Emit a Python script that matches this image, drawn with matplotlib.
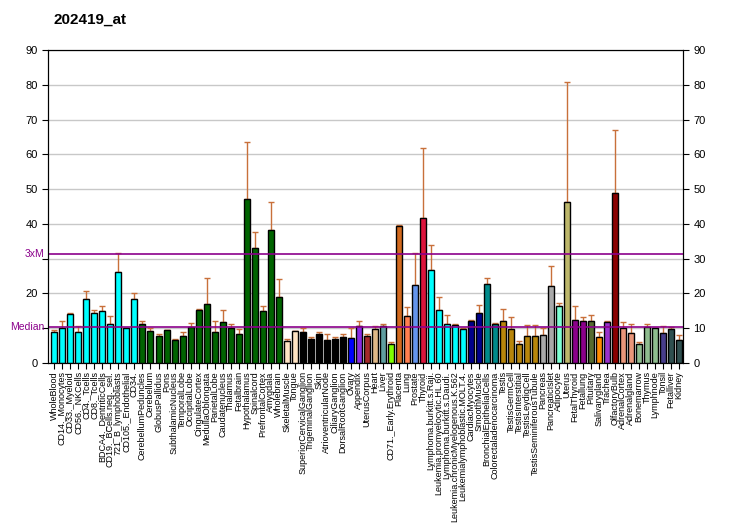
import matplotlib
matplotlib.use("Agg")
import matplotlib.pyplot as plt
import numpy as np

# tissue labels, in plot order
labels = ["WholeBlood", "CD14._Monocytes", "CD33._Myeloid", "CD56._NKCells", "CD4._Tcells",
          "CD8._Tcells", "BDCA4._DentriticCells", "CD19._BCells.neg._sel.", "721_B_lymphoblasts",
          "CD105._Endothelial", "CD34.", "CerebellumPeduncles", "Cerebellum", "GlobusPallidus",
          "Pons", "SubthalamicNucleus", "TemporalLobe", "OccipitalLobe", "CingulateCortex",
          "MedullaOblongata", "ParietalLobe", "Caudatenucleus", "Thalamus", "Fetalbrain",
          "Hypothalamus", "Spinalcord", "PrefrontalCortex", "Amygdala", "Wholebrain",
          "SkeletalMuscle", "Tongue", "SuperiorCervicalGanglion", "TrigeminalGanglion", "Skin",
          "AtrioventricularNode", "CiliaryGanglion", "DorsalRootGanglion", "Ovary", "Appendix",
          "UterusCorpus", "Heart", "Liver", "CD71._Early.Erythroid", "Placenta", "Lung",
          "Prostate", "Thyroid", "Lymphoma.burkitt.s.Raji.", "Leukemia.promyelocytic.HL.60",
          "Lymphoma.burkitt.s.Daudi.", "Leukemia.chronicMyelogenous.K.562",
          "Leukemialymphoblastic.MOLT.4.", "CardiacMyocytes", "SmoothMuscle",
          "BronchialEpithelialCells", "Colorectaladenocarcinoma", "Testis", "TestisGermCell",
          "TestisInterstitial", "TestisLeydigCell", "TestisSeminiferousTubule", "Pancreas",
          "PancreaticIslet", "Adipocyte", "Uterus", "FetalThyroid", "Fetallung", "Pituitary",
          "Salivarygland", "Trachea", "OlfactoryBulb", "AdrenalCortex", "Adrenalgland",
          "Bonemarrow", "Thymus", "Lymphnode", "Tonsil", "Fetalliver", "Kidney"]

values = [8.8, 10.2, 14.1, 8.8, 18.4, 14.3, 14.9, 11.2, 26.2, 10.0, 18.4,
          11.2, 9.1, 7.8, 9.4, 6.5, 7.8, 10.3, 15.2, 16.9, 8.8, 11.7, 10.2, 8.3,
          47.2, 33.1, 14.9, 38.3, 18.9,
          6.25, 9.1, 8.8, 6.8, 8.3, 6.5, 6.8, 7.4, 7.1, 10.6, 7.7, 9.7, 10.5, 5.4,
          39.4, 13.5, 22.4, 41.7, 26.7, 15.2, 11.2, 10.9, 9.7, 12.0, 14.3, 22.7, 11.2,
          12.0, 9.7, 5.4, 7.7, 7.7, 8.0, 22.1, 16.3, 46.3, 12.3, 12.0, 12.0, 7.4, 11.7,
          48.9, 10.0, 8.6, 5.4, 10.3, 10.0, 8.6, 9.7, 6.5]

upper = [9.4, 12.0, 14.3, 10.6, 20.7, 15.2, 16.3, 13.5, 31.6, 10.0, 20.0,
         12.0, 10.0, 8.3, 9.4, 6.8, 8.8, 11.4, 15.6, 24.4, 12.0, 15.2, 11.2, 9.7,
         63.5, 37.7, 16.3, 46.3, 24.1,
         7.0, 9.1, 10.0, 7.4, 8.8, 8.3, 7.4, 8.3, 10.0, 12.0, 8.3, 10.6, 11.2, 6.0,
         39.7, 16.1, 31.6, 61.8, 33.9, 18.9, 13.75, 11.2, 10.0, 12.3, 16.6, 24.4, 11.4,
         15.5, 13.2, 6.25, 10.9, 10.9, 10.0, 27.9, 17.2, 80.8, 16.3, 13.2, 13.75, 8.8, 12.0,
         67.0, 11.7, 11.2, 6.0, 11.2, 10.0, 10.6, 10.3, 8.0]

colors = (["#00FFFF"] * 11 + ["#006400"] * 18 + ["#FFE4C4"] * 2 + ["#000000"] * 6 +
          ["#0000FF", "#8A2BE2", "#A52A2A", "#DEB887", "#5F9EA0", "#7FFF00", "#D2691E",
           "#FF7F50", "#6495ED", "#DC143C"] + ["#00FFFF"] * 5 + ["#00008B"] * 2 +
          ["#008B8B"] * 2 + ["#B8860B"] * 5 + ["#A9A9A9"] * 2 +
          ["#7FFFD4", "#BDB76B", "#8B008B", "#8B008B", "#556B2F", "#FF8C00", "#9932CC",
           "#8B0000", "#E9967A", "#E9967A"] + ["#8FBC8F"] * 3 +
          ["#483D8B", "#2F4F4F", "#2F4F4F"])

median = 10.45
x = np.arange(len(labels))

plt.rcParams['font.family'] = ['Liberation Sans', 'DejaVu Sans']

fig = plt.figure(figsize=(7.32, 5.30), dpi=100)
ax = fig.add_axes([48 / 732, 1 - 363 / 530, 635 / 732, 313 / 530])

ax.bar(x, values, width=0.75, color=colors, edgecolor="black", linewidth=1, zorder=3)
err = np.array(upper) - np.array(values)
ax.errorbar(x, values, yerr=[np.zeros_like(err), err], fmt="none", ecolor="#C8703A",
            elinewidth=1, capsize=2.5, capthick=1, zorder=2)

for v in range(10, 100, 10):
    ax.axhline(v, color="#C8C8C8", linewidth=1, zorder=1)
ax.axhline(median * 3, color="#8B008B", linewidth=1.2, zorder=4)
ax.axhline(median, color="#8B008B", linewidth=1.2, zorder=4)

ax.set_xlim(-0.8, len(labels) - 0.5)
ax.set_ylim(0, 90)
yt = list(range(0, 100, 10))
ax.set_yticks(yt)
# left labels at 10 and 30 are covered by Median / 3xM in the reference
ax.set_yticklabels(["" if v in (10, 30) else str(v) for v in yt])
ax.tick_params(axis="y", labelsize=8, length=4, right=True)
ax2 = ax.twinx()
ax2.set_ylim(0, 90)
ax2.set_yticks(yt)
ax2.tick_params(axis="y", labelsize=8, length=4)

ax.set_xticks(x)
ax.set_xticklabels(labels, rotation=90, fontsize=6.5)
ax.tick_params(axis="x", length=4, pad=2)

ax.text(-1.2, median * 3, "3xM", color="#8B008B", fontsize=7.5, ha="right", va="center")
ax.text(-1.2, median, "Median", color="#8B008B", fontsize=7.5, ha="right", va="center")

fig.text(53 / 732, 1 - 20 / 530, "202419_at", fontsize=11, fontweight="bold", va="center")

fig.savefig("out.png", dpi=100)
